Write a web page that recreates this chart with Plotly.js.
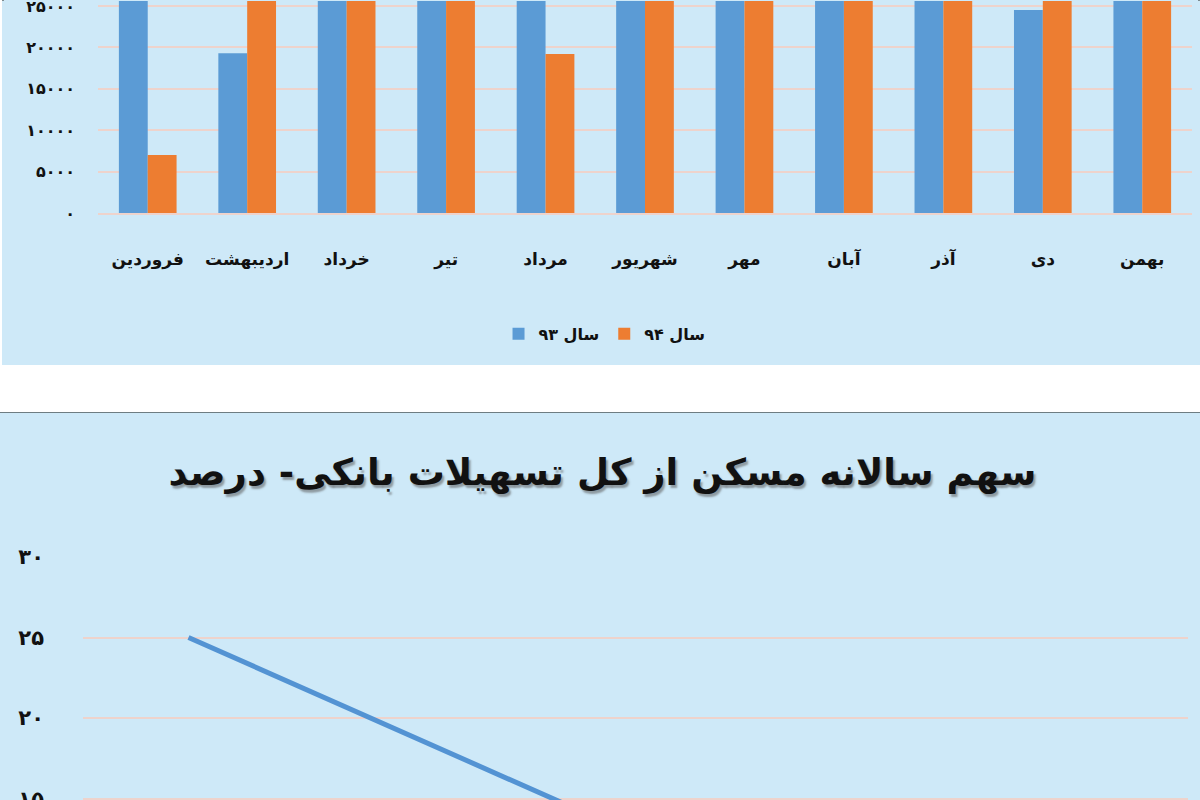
<!DOCTYPE html>
<html>
<head>
<meta charset="utf-8">
<script src="https://cdn.plot.ly/plotly-3.0.1.min.js"></script>
<style>
  html, body { margin: 0; padding: 0; background: #fff; }
  #page { position: relative; width: 1200px; height: 800px; overflow: hidden; background: #fff; }
  #panel1 { position: absolute; left: 2px; top: -4px; width: 1194px; height: 365px;
            border: 2px solid #7d8b90; background: #cee9f8; }
  #panel2 { position: absolute; left: 0; top: 412px; width: 1200px; height: 700px;
            border-top: 2px solid #6e7d82; background: #cee9f8; }
  #bars { position: absolute; left: -2px; top: 3px; }
  #line { position: absolute; left: 0; top: -1px; }
  .gtitle { text-shadow: 2px 3px 2px rgba(90,90,90,0.55); }
</style>
</head>
<body>
<div id="page">
  <div id="panel1"><div id="bars"></div></div>
  <div id="panel2"><div id="line"></div></div>
</div>
<script>
// ماه‌ها
var months = ['فروردین', 'اردیبهشت', 'خرداد', 'تیر', 'مرداد', 'شهریور', 'مهر', 'آبان', 'آذر', 'دی', 'بهمن'];
// سال ۹۳ و ۹۴ (بالای ۲۵۰۰۰ در تصویر بریده شده، تخمینی)
var sal93 = [29500, 19300, 31000, 30500, 33000, 32000, 31500, 30000, 32500, 24500, 34000];
var sal94 = [7000, 29000, 30500, 31000, 19200, 33500, 32000, 31500, 33000, 30000, 35000];
var barTicks = [0, 5000, 10000, 15000, 20000, 25000];
var barTickText = ['۰', '۵۰۰۰', '۱۰۰۰۰', '۱۵۰۰۰', '۲۰۰۰۰', '۲۵۰۰۰'];

// سهم سالانه مسکن
var years = ['۱۳۹۰', '۱۳۹۱', '۱۳۹۲', '۱۳۹۳', '۱۳۹۴'];
var sahm = [25, 18.9, 12.8, 11, 10];
var lineTicks = [0, 5, 10, 15, 20, 25, 30];
var lineTickText = ['۰', '۵', '۱۰', '۱۵', '۲۰', '۲۵', '۳۰'];

var fnt = 'DejaVu Sans, Noto Sans, sans-serif';
var bg = '#cee9f8';
var grid = '#eed3cc';

// نمودار میله ای
var t93 = { x: months, y: sal93, type: 'bar', name: 'سال ۹۳', marker: { color: '#5b9bd5' } };
var t94 = { x: months, y: sal94, type: 'bar', name: 'سال ۹۴', marker: { color: '#ed7d31' } };

var layout1 = {
  width: 1198, height: 364,
  margin: { l: 96, r: 8, t: 0, b: 152 },
  paper_bgcolor: bg, plot_bgcolor: bg,
  barmode: 'group', bargap: 0.42, bargroupgap: 0,
  font: { family: fnt, color: '#111' },
  xaxis: {
    tickfont: { size: 17, family: fnt, weight: 'bold' },
    ticklabelstandoff: 30, showline: true, linecolor: grid, linewidth: 2
  },
  yaxis: {
    range: [0, 25600], tickvals: barTicks, ticktext: barTickText,
    tickfont: { size: 16, family: fnt, weight: 'bold' },
    gridcolor: grid, gridwidth: 2, zeroline: false, ticklabelstandoff: 22,
    ticklabeloverflow: 'allow'
  },
  showlegend: true,
  legend: { orientation: 'h', x: 0.463, xanchor: 'center', y: -0.57, yanchor: 'middle',
            font: { size: 16, weight: 'bold' }, bgcolor: 'rgba(0,0,0,0)', itemwidth: 30 }
};

Plotly.newPlot('bars', [t93, t94], layout1, { displayModeBar: false, staticPlot: true });

// نمودار خطی
var tLine = { x: years, y: sahm, type: 'scatter', mode: 'lines',
              line: { color: '#5393d3', width: 5 }, showlegend: false };

var layout2 = {
  width: 1200, height: 700,
  margin: { l: 83, r: 12, t: 144, b: 73 },
  paper_bgcolor: bg, plot_bgcolor: bg,
  font: { family: fnt, color: '#111' },
  title: { text: 'سهم سالانه مسکن از کل تسهیلات بانکی- درصد',
           font: { size: 37, family: fnt, weight: 'bold', color: '#111' },
           x: 0.502, xanchor: 'center', yref: 'container', y: 0.915, yanchor: 'middle' },
  xaxis: { range: [-0.475, 4.5], showgrid: false, tickfont: { size: 16, weight: 'bold' } },
  yaxis: {
    range: [0, 30], tickvals: lineTicks, ticktext: lineTickText,
    tickfont: { size: 21, family: fnt, weight: 'bold' },
    gridcolor: grid, gridwidth: 2, zeroline: false, ticklabelstandoff: 38,
    ticklabeloverflow: 'allow'
  }
};

Plotly.newPlot('line', [tLine], layout2, { displayModeBar: false, staticPlot: true });
</script>
</body>
</html>
